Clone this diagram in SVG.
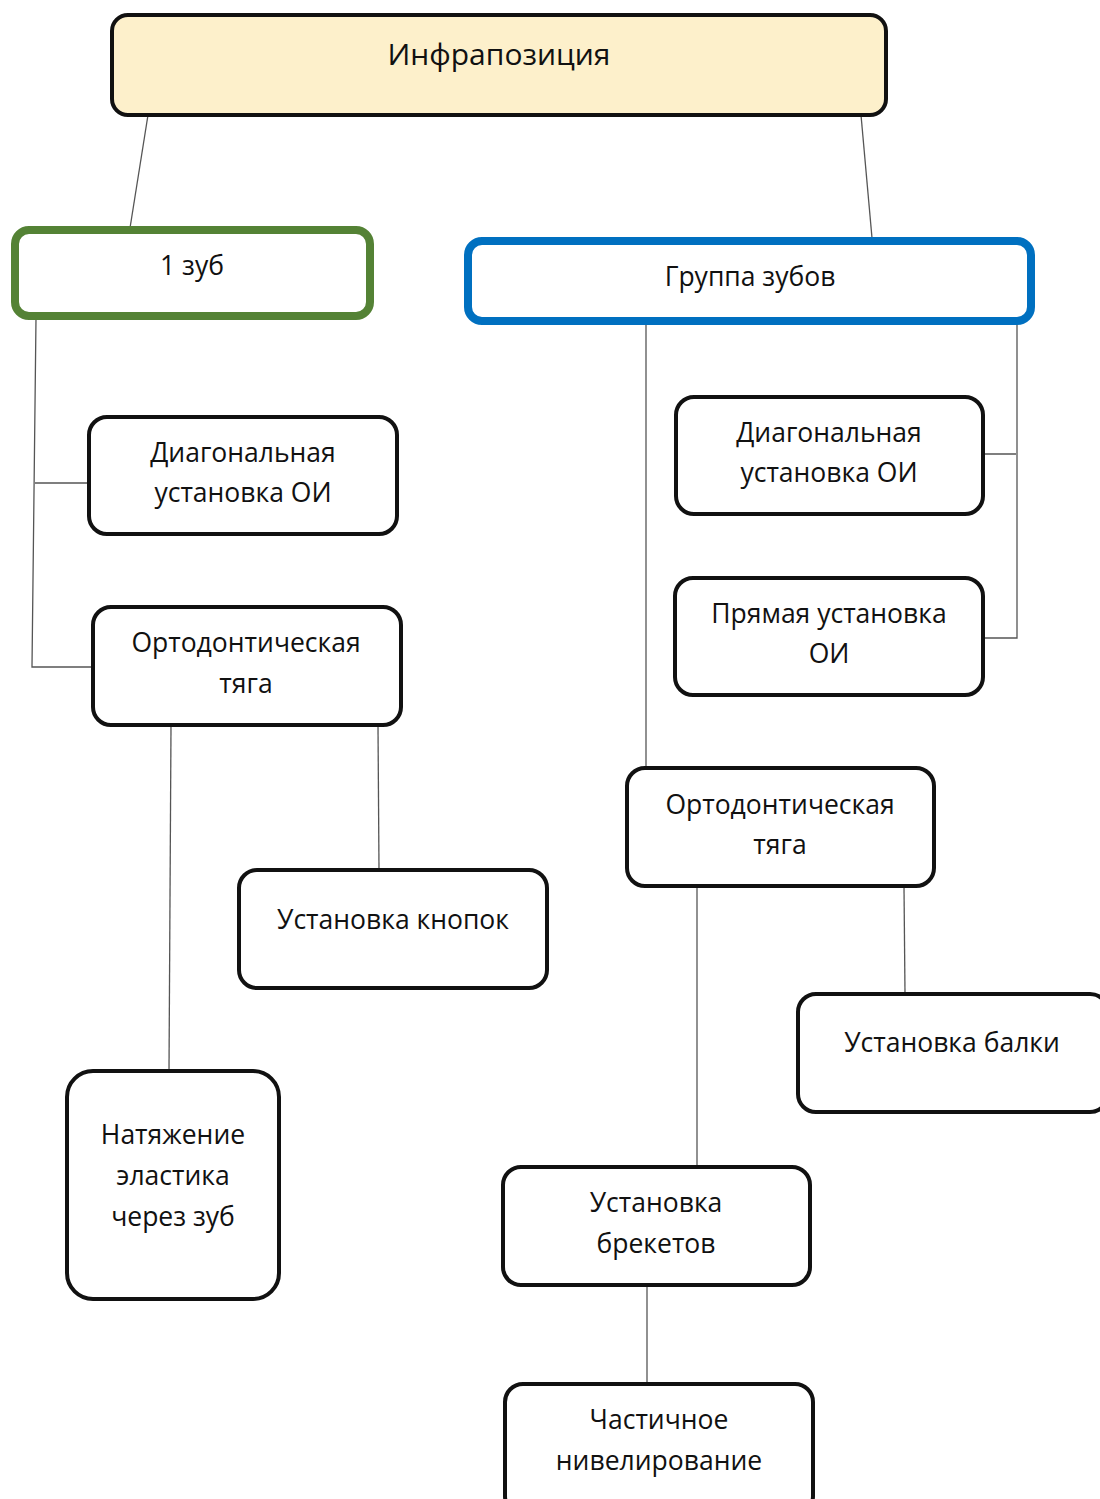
<svg xmlns="http://www.w3.org/2000/svg" width="1100" height="1499" viewBox="0 0 1100 1499">
<style>
.box{fill:#fff;stroke:#111;stroke-width:4}
.t{font-family:"Open Sans","Noto Sans","Liberation Sans",sans-serif;font-size:26.5px;fill:#111;text-anchor:middle}
.c{stroke:#555;stroke-width:1.3;fill:none}
</style>
<rect width="1100" height="1499" fill="#fff"/>
<g id="connectors">
<line class="c" x1="148" y1="115" x2="130" y2="228"/>
<line class="c" x1="861" y1="115" x2="872" y2="238"/>
<polyline class="c" points="36,318 32,667 93,667"/>
<line class="c" x1="35" y1="483" x2="89" y2="483"/>
<line class="c" x1="171" y1="726" x2="169" y2="1071"/>
<line class="c" x1="378" y1="726" x2="379" y2="870"/>
<line class="c" x1="646" y1="323" x2="646" y2="768"/>
<polyline class="c" points="1017,323 1017,638 983,638"/>
<line class="c" x1="983" y1="454" x2="1016" y2="454"/>
<line class="c" x1="697" y1="887" x2="697" y2="1167"/>
<line class="c" x1="904" y1="887" x2="905" y2="994"/>
<line class="c" x1="647" y1="1286" x2="647" y2="1384"/>
</g>
<g id="n-root">
<rect x="112" y="15" width="774" height="100" rx="16" fill="#fdf0cb" stroke="#111" stroke-width="4"/>
<text class="t" x="499" y="65" style="font-size:30px">Инфрапозиция</text>
</g>
<g id="n-1zub">
<rect x="15" y="230" width="355" height="86" rx="14" fill="#fff" stroke="#548235" stroke-width="8"/>
<text class="t" x="192" y="275">1 зуб</text>
</g>
<g id="n-group">
<rect x="468" y="241" width="563" height="80" rx="14" fill="#fff" stroke="#0070c0" stroke-width="8"/>
<text class="t" x="750" y="286">Группа зубов</text>
</g>
<g id="n-l-diag">
<rect class="box" x="89" y="417" width="308" height="117" rx="18"/>
<text class="t" x="243" y="462">Диагональная</text>
<text class="t" x="243" y="502">установка ОИ</text>
</g>
<g id="n-l-orto">
<rect class="box" x="93" y="607" width="308" height="118" rx="18"/>
<text class="t" x="246" y="652">Ортодонтическая</text>
<text class="t" x="246" y="693">тяга</text>
</g>
<g id="n-knopki">
<rect class="box" x="239" y="870" width="308" height="118" rx="18"/>
<text class="t" x="393" y="929">Установка кнопок</text>
</g>
<g id="n-elastik">
<rect class="box" x="67" y="1071" width="212" height="228" rx="26"/>
<text class="t" x="173" y="1144">Натяжение</text>
<text class="t" x="173" y="1185">эластика</text>
<text class="t" x="173" y="1226">через зуб</text>
</g>
<g id="n-r-diag">
<rect class="box" x="676" y="397" width="307" height="117" rx="18"/>
<text class="t" x="829" y="442">Диагональная</text>
<text class="t" x="829" y="482">установка ОИ</text>
</g>
<g id="n-r-pryam">
<rect class="box" x="675" y="578" width="308" height="117" rx="18"/>
<text class="t" x="829" y="623">Прямая установка</text>
<text class="t" x="829" y="663">ОИ</text>
</g>
<g id="n-r-orto">
<rect class="box" x="627" y="768" width="307" height="118" rx="18"/>
<text class="t" x="780" y="814">Ортодонтическая</text>
<text class="t" x="780" y="854">тяга</text>
</g>
<g id="n-balka">
<rect class="box" x="798" y="994" width="310" height="118" rx="18"/>
<text class="t" x="952" y="1052">Установка балки</text>
</g>
<g id="n-brekety">
<rect class="box" x="503" y="1167" width="307" height="118" rx="18"/>
<text class="t" x="656" y="1212">Установка</text>
<text class="t" x="656" y="1253">брекетов</text>
</g>
<g id="n-nivel">
<rect class="box" x="505" y="1384" width="308" height="130" rx="18"/>
<text class="t" x="659" y="1429">Частичное</text>
<text class="t" x="659" y="1470">нивелирование</text>
</g>
</svg>
